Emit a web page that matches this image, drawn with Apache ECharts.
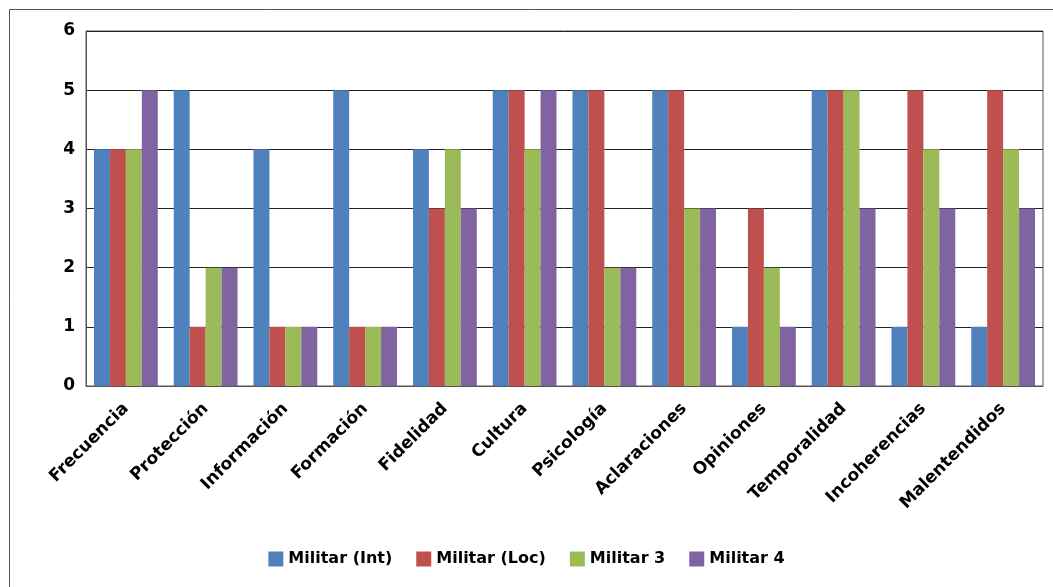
<!DOCTYPE html>
<html>
<head>
<meta charset="utf-8">
<script src="https://cdn.jsdelivr.net/npm/echarts@6/dist/echarts.min.js"></script>
<style>
  html, body { margin: 0; padding: 0; background: #fff; }
  #chart { width: 1053px; height: 587px; }
</style>
</head>
<body>
<div id="chart"></div>
<script>
// Evaluation dimensions along the x axis
const categories = ['Frecuencia', 'Protección', 'Información', 'Formación', 'Fidelidad', 'Cultura',
  'Psicología', 'Aclaraciones', 'Opiniones', 'Temporalidad', 'Incoherencias', 'Malentendidos'];

// Scores per respondent
const seriesNames = ['Militar (Int)', 'Militar (Loc)', 'Militar 3', 'Militar 4'];
const militarInt = [4, 5, 4, 5, 4, 5, 5, 5, 1, 5, 1, 1];
const militarLoc = [4, 1, 1, 1, 3, 5, 5, 5, 3, 5, 5, 5];
const militar3   = [4, 2, 1, 1, 4, 4, 2, 3, 2, 5, 4, 4];
const militar4   = [5, 2, 1, 1, 3, 5, 2, 3, 1, 3, 3, 3];

const colors = ['#4F81BD', '#C0504D', '#9BBB59', '#8064A2'];
const values = [militarInt, militarLoc, militar3, militar4];

const chart = echarts.init(document.getElementById('chart'));
const font = '"DejaVu Sans", Verdana, sans-serif';

chart.setOption({
  animation: false,
  color: colors,
  graphic: [{
    type: 'rect',
    shape: { x: 9.5, y: 9.5, width: 1100, height: 700 },
    style: { fill: 'none', stroke: '#555', lineWidth: 1 },
    silent: true,
    z: -1
  }],
  grid: {
    left: 86, right: 10, top: 31, bottom: 201,
    show: true, borderColor: '#555', borderWidth: 1
  },
  legend: {
    bottom: 15,
    left: 'center',
    itemWidth: 15, itemHeight: 15,
    itemGap: 24,
    icon: 'rect',
    textStyle: { fontFamily: font, fontWeight: 'bold', fontSize: 16, color: '#000' },
    data: seriesNames
  },
  xAxis: {
    type: 'category',
    data: categories,
    axisLine: { lineStyle: { color: '#555' } },
    axisTick: { show: false },
    axisLabel: {
      interval: 0, rotate: 45, margin: 20,
      fontFamily: font, fontWeight: 'bold', fontSize: 17, color: '#000'
    }
  },
  yAxis: {
    type: 'value',
    min: 0, max: 6, interval: 1,
    axisLine: { show: true, lineStyle: { color: '#555' } },
    axisTick: { show: false },
    axisLabel: { fontFamily: font, fontWeight: 'bold', fontSize: 17, color: '#000', margin: 11 },
    splitLine: { lineStyle: { color: '#222', width: 1 } }
  },
  series: values.map((v, i) => ({
    name: seriesNames[i],
    type: 'bar',
    data: v,
    barGap: '0%',
    barCategoryGap: '20%',
    itemStyle: { color: colors[i] }
  }))
});
</script>
</body>
</html>
